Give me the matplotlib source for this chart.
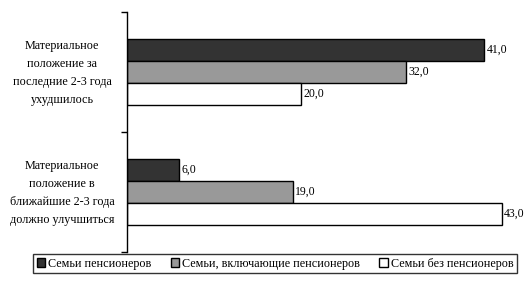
import numpy as np
import matplotlib
matplotlib.use("Agg")
import matplotlib.pyplot as plt

plt.rcParams['font.family'] = ['Liberation Serif', 'DejaVu Serif']

# данные
categories = ["Материальное\nположение за\nпоследние 2-3 года\nухудшилось",
              "Материальное\nположение в\nближайшие 2-3 года\nдолжно улучшиться"]
series_names = ["Семьи пенсионеров", "Семьи, включающие пенсионеров", "Семьи без пенсионеров"]
pensioners = [41.0, 6.0]
with_pensioners = [32.0, 19.0]
without_pensioners = [20.0, 43.0]
colors = ["#333333", "#999999", "#ffffff"]

fig = plt.figure(figsize=(5.3, 2.91), dpi=100)
ax = fig.add_axes([127/530, 1-252/291, 392/530, 240/291])

y = np.arange(len(categories))
h = 0.183
all_series = [pensioners, with_pensioners, without_pensioners]
for i, vals in enumerate(all_series):
    pos = y - h + i*h
    bars = ax.barh(pos, vals, height=h, color=colors[i], edgecolor="black",
                   linewidth=1, label=series_names[i])
    for b, v in zip(bars, vals):
        ax.text(v + 0.3, b.get_y() + h/2, ("%.1f" % v).replace(".", ","),
                va="center", ha="left", fontsize=8.5)

ax.set_xlim(0, 45)
ax.set_ylim(1.5, -0.5)
ax.set_yticks(y)
ax.set_yticklabels([])
ax.set_yticks([-0.5, 0.5, 1.5], minor=True)
ax.tick_params(axis="y", which="major", length=0)
ax.tick_params(axis="y", which="minor", length=4, direction="out", width=1)
for i, c in enumerate(categories):
    fig.text(62/530, 1-(73 + 120*i)/291, c, ha="center", va="center",
             fontsize=8.7, linespacing=1.65)
ax.set_xticks([])
for s in ["top", "right", "bottom"]:
    ax.spines[s].set_visible(False)
ax.spines["left"].set_linewidth(1)

leg = fig.legend(loc="center", bbox_to_anchor=(275/530, 1-263.5/291), ncol=3,
                 fontsize=8.7, frameon=True, fancybox=False, borderpad=0.3,
                 handlelength=0.7, handleheight=0.7, handletextpad=0.25,
                 columnspacing=1.6, borderaxespad=0)
leg.get_frame().set_edgecolor("black")
leg.get_frame().set_linewidth(1)

fig.savefig("out.png", dpi=100)
